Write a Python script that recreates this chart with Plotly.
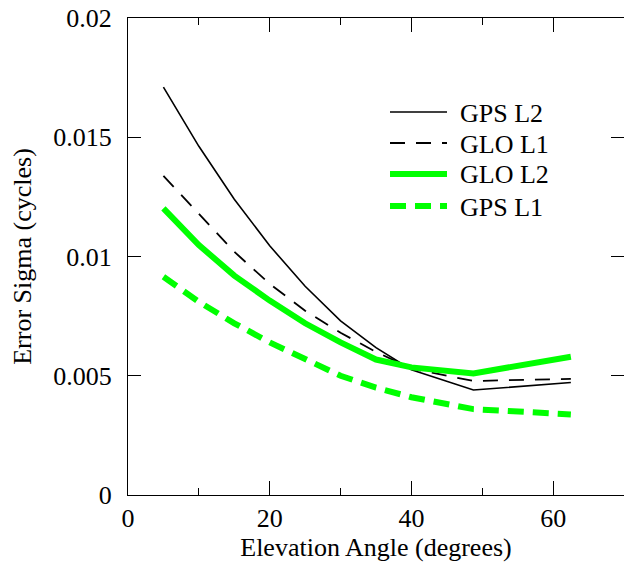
import plotly.graph_objects as go

# ---- data ----
elevation = [5, 10, 15, 20, 25, 30, 35, 40, 48.75, 62.5]
gps_l2 = [0.0171, 0.01462, 0.01240, 0.01045, 0.00875, 0.00730, 0.00618, 0.00525, 0.00440, 0.00472]
glo_l1 = [0.01338, 0.01180, 0.01020, 0.00885, 0.00773, 0.00680, 0.00600, 0.00530, 0.00478, 0.00487]
glo_l2 = [0.01202, 0.01048, 0.00920, 0.00815, 0.00720, 0.00640, 0.00568, 0.00535, 0.00510, 0.00580]
gps_l1 = [0.00915, 0.00810, 0.00720, 0.00640, 0.00570, 0.00500, 0.00450, 0.00410, 0.00360, 0.00338]

series_names = ["GPS L2", "GLO L1", "GLO L2", "GPS L1"]
series_values = [gps_l2, glo_l1, glo_l2, gps_l1]

x_ticks = [0, 20, 40, 60]
y_ticks = [0, 0.005, 0.01, 0.015, 0.02]
y_tick_labels = ["0", "0.005", "0.01", "0.015", "0.02"]

# ---- styles ----
GREEN = "rgb(0,255,0)"
styles = [
    dict(color="black", width=1.6, dash="solid"),
    dict(color="black", width=1.8, dash="15px,11px"),
    dict(color=GREEN, width=6, dash="solid"),
    dict(color=GREEN, width=6, dash="16px,9px"),
]
FONT = "Liberation Serif, Times New Roman, serif"

fig = go.Figure()
for name, vals, st in zip(series_names, series_values, styles):
    fig.add_trace(go.Scatter(x=elevation, y=vals, mode="lines", name=name,
                             line=dict(color=st["color"], width=st["width"], dash=st["dash"]),
                             showlegend=False))

# ---- custom legend (paper coordinates) ----
W, H = 624, 563
L, R, T, B = 128, 0, 18, 68
pw, ph = W - L - R, H - T - B
def px2paper_x(px):
    return (px - L) / pw
def px2paper_y(py):
    return (H - B - py) / ph

row_y = [112, 143, 174, 206]
for name, st, ry in zip(series_names, styles, row_y):
    fig.add_shape(type="line", xref="paper", yref="paper",
                  x0=px2paper_x(390), x1=px2paper_x(447),
                  y0=px2paper_y(ry), y1=px2paper_y(ry),
                  line=dict(color=st["color"], width=st["width"], dash=st["dash"]))
    fig.add_annotation(text=name, xref="paper", yref="paper",
                       x=px2paper_x(458), y=px2paper_y(ry + 1),
                       xanchor="left", yanchor="middle", showarrow=False,
                       font=dict(family=FONT, size=26, color="black"))

axis_common = dict(showline=True, linecolor="black", linewidth=1.3, mirror="ticks",
                   ticks="inside", tickcolor="black", tickwidth=1.3,
                   showgrid=False, zeroline=False,
                   tickfont=dict(family=FONT, size=26, color="black"))

fig.update_xaxes(range=[0, 70], tickvals=x_ticks, ticklen=14,
                 minor=dict(dtick=10, ticks="inside", ticklen=7, tickcolor="black", tickwidth=1.3),
                 title=dict(text="Elevation Angle (degrees)", font=dict(family=FONT, size=26, color="black"), standoff=3),
                 **axis_common)
fig.update_yaxes(range=[0, 0.02], tickvals=y_ticks, ticktext=y_tick_labels, ticklen=13,
                 ticklabelstandoff=10,
                 title=dict(text="Error Sigma (cycles)", font=dict(family=FONT, size=26, color="black"), standoff=14),
                 **axis_common)

fig.update_layout(width=W, height=H, margin=dict(l=L, r=R, t=T, b=B, pad=0),
                  plot_bgcolor="white", paper_bgcolor="white",
                  font=dict(family=FONT, size=26, color="black"))

fig.write_html("out.html", config={"displayModeBar": False},
               post_script="document.body.style.margin='0px';document.body.style.overflow='hidden';")
